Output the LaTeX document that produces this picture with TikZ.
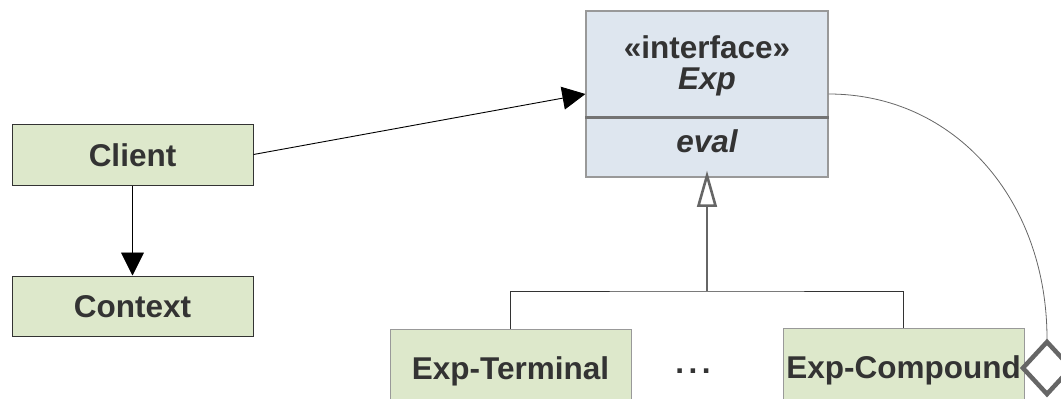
\documentclass[tikz,border=0pt]{standalone}
\usepackage{fontspec}
\setmainfont{Liberation Sans}
\usetikzlibrary{arrows.meta,shapes.geometric,calc}
\definecolor{txt}{HTML}{333333}
\definecolor{classgreen}{HTML}{DDE8CB}
\definecolor{ifaceblue}{HTML}{DEE6EF}
\definecolor{edgegray}{HTML}{999999}
\definecolor{darkgray}{HTML}{666666}
\tikzset{
  umlfont/.style={font=\fontsize{31.5}{36}\selectfont\bfseries, text=txt},
  classbox/.style={umlfont, rectangle, fill=classgreen, draw=#1, line width=1pt,
    minimum width=241pt, inner sep=0pt, text height=23pt, text depth=0pt},
  ifacebox/.style={rectangle, fill=ifaceblue, draw=edgegray, line width=1.2pt,
    minimum width=242pt, minimum height=166pt, inner sep=0pt},
  label/.style={umlfont, inner sep=0pt, anchor=base},
  assoc/.style={draw=black, line width=0.9pt, -{Triangle[length=23pt,width=23pt]}},
  link/.style={draw=txt, line width=0.9pt},
}
\begin{document}
\begin{tikzpicture}[x=1pt,y=-1pt]
  \useasboundingbox (0,0) rectangle (1061,399);
  \clip (0,0) rectangle (1061,399);

  % classes on the left
  \node[classbox=txt, minimum height=61pt] (client) at (132.5,154.5) {Client};
  \node[classbox=txt, minimum height=60pt] (context) at (132.5,306) {Context};

  % the interface with its operation compartment
  \node[ifacebox] (exp) at (707,94) {};
  \node[label] (stereo) at (707,58) {«interface»};
  \node[label] (expname) at (707,89) {\itshape Exp};
  \node[label] (op) at (707,152) {\itshape eval};
  \draw[draw=gray!90!black, line width=3pt] (exp.west |- 0,117) -- (exp.east |- 0,117);

  % implementing classes
  \node[classbox=edgegray, minimum height=78pt] (term) at (510.5,368) {Exp-Terminal};
  \node[classbox=edgegray, minimum height=78pt] (comp) at (903.5,367) {Exp-Compound};
  \node[label] (dots) at (693,373) {.\kern4.6pt.\kern4.6pt.};

  % associations
  \draw[assoc] (client.east) -- (exp.west);
  \draw[assoc] (client.south) -- (context.north);

  % generalisation tree with a hollow triangle at the interface
  \coordinate (join) at (707,291);
  \coordinate (stem) at ($(exp.south)+(0,28)$);
  \draw[link] (term.north) |- (join) -| (comp.north);
  \draw[link, draw=darkgray, line width=1.2pt] (join) -- (stem);
  \draw[line width=2.6pt, draw=darkgray, fill=white, line join=miter]
    ([yshift=2pt]exp.south) -- ($(stem)+(-8.5,0)$) -- ($(stem)+(8.5,0)$) -- cycle;

  % aggregation back to the interface
  \node[diamond, draw=darkgray, fill=white, line width=4.5pt, minimum width=50pt,
        minimum height=54pt, inner sep=0pt] (agg) at (1047,368) {};
  \draw[draw=darkgray, line width=0.8pt] (exp.east) .. controls (955,94) and (1047,200) .. (agg.north);
\end{tikzpicture}
\end{document}
